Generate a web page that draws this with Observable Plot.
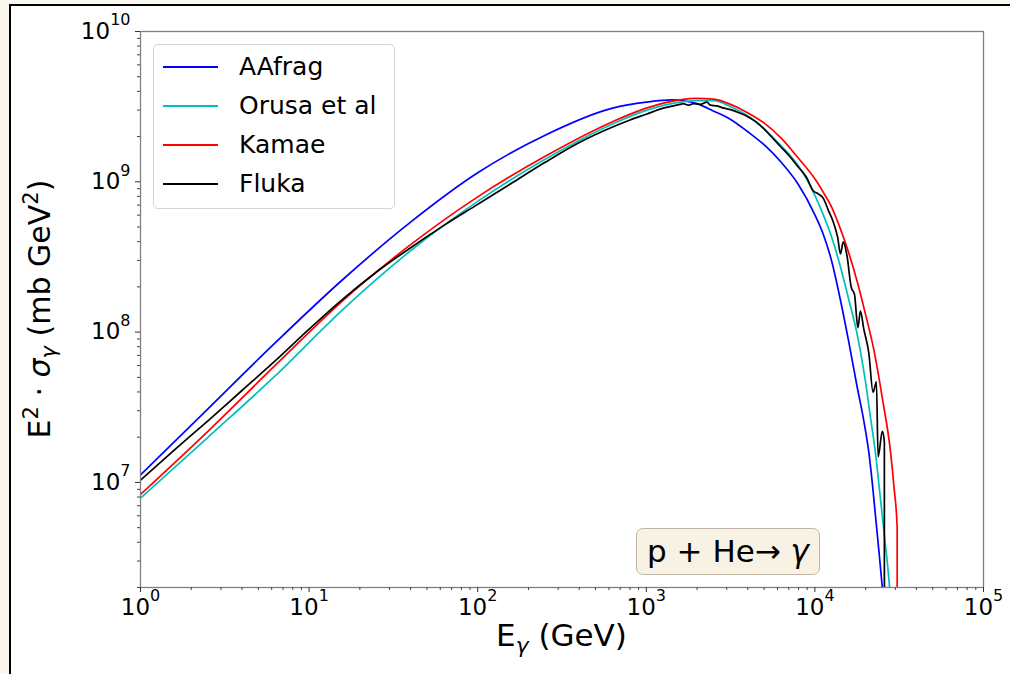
<!DOCTYPE html>
<html>
<head>
<meta charset="utf-8">
<script src="https://cdn.jsdelivr.net/npm/d3@7"></script>
<script src="https://cdn.jsdelivr.net/npm/@observablehq/plot@0.6"></script>
<style>
html,body{margin:0;padding:0;width:1010px;height:674px;overflow:hidden;background:#fbf7ee;font-family:"DejaVu Sans",sans-serif;}
#fig{position:absolute;left:9px;top:4px;width:1010px;height:680px;background:#fff;border-left:2px solid #000;border-top:2px solid #000;}
#chart{position:absolute;left:0;top:0;}
.lab{position:absolute;line-height:34px;white-space:nowrap;color:#000;text-align:center;}
sup,sub{font-size:70%;line-height:0;position:relative;vertical-align:baseline;}
sup{top:-0.55em;}
sub{top:0.3em;}
#xlab{left:140px;width:843px;top:618px;font-size:31px;}
#ylab{left:-160px;width:400px;top:292px;font-size:30px;transform:rotate(-90deg);}
#legend{position:absolute;left:153px;top:44px;width:242px;height:165px;box-sizing:border-box;border:1px solid #d4d4d4;border-radius:5px;background:rgba(255,255,255,0.85);}
.item{position:absolute;left:0;height:30px;line-height:30px;font-size:25px;white-space:nowrap;}
.sw{position:absolute;left:9px;top:14px;width:55px;height:2px;}
.tx{position:absolute;left:85px;top:0;}
#note{position:absolute;left:636px;top:528px;width:184px;height:47px;box-sizing:border-box;border:1px solid #bdb6a6;border-radius:7px;background:#f8f2e4;font-size:31px;line-height:45px;text-align:center;white-space:nowrap;}
</style>
</head>
<body>
<div id="fig"></div>
<div id="chart"></div>
<div id="xlab" class="lab">E<sub><i>γ</i></sub> (GeV)</div>
<div id="ylab" class="lab">E<sup>2</sup> · <i>σ</i><sub><i>γ</i></sub> (mb GeV<sup>2</sup>)</div>
<div id="legend"></div>
<div id="note">p + He→ <i>γ</i></div>
<script>
// ---------- data (E in GeV, E^2·σ in mb GeV^2) ----------
const models = ["AAfrag", "Orusa et al", "Kamae", "Fluka"];
const colors = ["#0000ff", "#00bfbf", "#ff0000", "#000000"];

const aafragE = [1, 2.512, 6.310, 15.85, 39.81, 100, 251.2, 631.0, 1000, 1413, 1995, 2512, 3162, 3981, 5012, 6310, 7943, 10000, 11220, 12590, 14130, 15850, 17780, 19500, 20890, 21880, 22910, 23990, 25120, 26920];
const aafragV = [1.122e7, 3.090e7, 8.511e7, 2.239e8, 5.370e8, 1.148e9, 2.042e9, 3.090e9, 3.388e9, 3.508e9, 3.311e9, 2.951e9, 2.600e9, 2.163e9, 1.758e9, 1.349e9, 9.661e8, 6.026e8, 4.467e8, 2.951e8, 1.660e8, 8.710e7, 4.365e7, 2.570e7, 1.585e7, 1.0e7, 5.888e6, 3.467e6, 1.995e6, 7.943e5];

const orusaE = [1, 2.512, 6.310, 15.85, 39.81, 100, 251.2, 631.0, 1000, 1585, 1995, 2512, 3162, 3981, 5012, 6310, 7943, 10000, 11220, 12590, 14130, 15850, 17780, 19950, 21380, 22910, 24270, 25700, 27860, 29510];
const orusaV = [7.852e6, 1.995e7, 5.129e7, 1.413e8, 3.467e8, 7.413e8, 1.413e9, 2.427e9, 2.985e9, 3.388e9, 3.467e9, 3.467e9, 3.162e9, 2.754e9, 2.239e9, 1.738e9, 1.288e9, 8.128e8, 6.026e8, 4.266e8, 2.754e8, 1.660e8, 9.772e7, 4.677e7, 2.692e7, 1.549e7, 8.511e6, 4.677e6, 1.862e6, 6.310e5];

const kamaeE = [1, 2.512, 6.310, 15.85, 39.81, 100, 251.2, 631.0, 1000, 1585, 1995, 2512, 3162, 3981, 5012, 6310, 7943, 10000, 11220, 12590, 14130, 15850, 17780, 19950, 22390, 25120, 28180, 29510, 30760, 30830];
const kamaeV = [8.318e6, 2.188e7, 6.026e7, 1.622e8, 3.802e8, 7.943e8, 1.479e9, 2.512e9, 3.090e9, 3.508e9, 3.589e9, 3.548e9, 3.273e9, 2.884e9, 2.455e9, 1.950e9, 1.445e9, 1.047e9, 8.511e8, 6.761e8, 4.898e8, 3.388e8, 2.188e8, 1.318e8, 7.586e7, 3.631e7, 1.549e7, 9.120e6, 5.012e6, 100];

const flukaE = [1, 1.585, 2.512, 3.981, 6.310, 10, 15.85, 25.12, 39.81, 63.10, 100, 158.5, 251.2, 398.1, 631.0, 794.3, 1000, 1259, 1585, 1660, 1778, 1905, 2089, 2291, 2399, 2630, 2884, 3162, 3548, 3981, 4467, 5012, 5623, 6310, 7079, 7943, 8913, 9772, 10470, 11220, 12020, 12880, 13650, 14190, 14720, 15490, 16410, 17180, 17990, 18620, 19500, 20890, 22130, 23170, 23710, 25120, 25820, 25880];
const flukaV = [1.035e7, 1.641e7, 2.570e7, 4.074e7, 6.457e7, 1.047e8, 1.660e8, 2.512e8, 3.631e8, 5.129e8, 7.079e8, 9.772e8, 1.349e9, 1.820e9, 2.317e9, 2.570e9, 2.818e9, 3.090e9, 3.273e9, 3.311e9, 3.236e9, 3.311e9, 3.273e9, 3.388e9, 3.236e9, 3.199e9, 3.090e9, 3.020e9, 2.884e9, 2.723e9, 2.512e9, 2.239e9, 1.950e9, 1.698e9, 1.479e9, 1.259e9, 1.072e9, 8.710e8, 8.318e8, 7.762e8, 6.457e8, 5.370e8, 4.266e8, 3.311e8, 3.981e8, 3.236e8, 1.995e8, 1.778e8, 1.072e8, 1.380e8, 1.047e8, 7.244e7, 3.981e7, 4.677e7, 1.479e7, 2.188e7, 1.862e7, 100];

const xMajor = [1, 10, 100, 1000, 10000, 100000];
const yMajor = [1e7, 1e8, 1e9, 1e10];
const mult = [2, 3, 4, 5, 6, 7, 8, 9];
const xMinor = [1, 10, 100, 1000, 10000].flatMap(d => mult.map(m => m * d));
const yMinor = [1e6, 1e7, 1e8, 1e9].flatMap(d => mult.map(m => m * d)).filter(v => v >= 2e6);

// ---------- table ----------
const series = [[aafragE, aafragV], [orusaE, orusaV], [kamaeE, kamaeV], [flukaE, flukaV]];
const rows = series.flatMap(([E, V], i) => E.map((e, j) => ({model: models[i], E: e, v: V[j]})));

const pow = d => "10^" + Math.round(Math.log10(d));

const chart = Plot.plot({
  width: 1010,
  height: 674,
  marginLeft: 140,
  marginRight: 27,
  marginTop: 31,
  marginBottom: 87,
  style: {background: "transparent", fontFamily: "DejaVu Sans", fontSize: "23px", color: "#000", overflow: "visible"},
  x: {type: "log", domain: [1, 1e5], label: null},
  y: {type: "log", domain: [2e6, 1e10], label: null},
  color: {domain: models, range: colors},
  marks: [
    Plot.line(rows, {x: "E", y: "v", z: "model", stroke: "model", strokeWidth: 1.7, curve: "monotone-x", clip: true}),
    Plot.frame({stroke: "#808080", strokeWidth: 1.3}),
    Plot.axisX({ticks: xMinor, tickSize: 3, tickFormat: () => "", stroke: "#444", label: null}),
    Plot.axisX({ticks: xMajor, tickSize: 5, tickPadding: 6, tickFormat: pow, stroke: "#333", fill: "#000", label: null}),
    Plot.axisY({ticks: yMinor, tickSize: 3, tickFormat: () => "", stroke: "#444", label: null}),
    Plot.axisY({ticks: yMajor, tickSize: 5, tickPadding: 5, tickFormat: pow, stroke: "#333", fill: "#000", label: null})
  ]
});

// superscript exponents in tick labels
const NS = "http://www.w3.org/2000/svg";
chart.querySelectorAll("text").forEach(t => {
  const s = t.textContent;
  if (!s.includes("^")) return;
  const [b, e] = s.split("^");
  t.textContent = "";
  const t1 = document.createElementNS(NS, "tspan");
  t1.textContent = b;
  const t2 = document.createElementNS(NS, "tspan");
  t2.textContent = e;
  t2.setAttribute("font-size", "16px");
  t2.setAttribute("dy", "-0.85em");
  t.append(t1, t2);
});
document.getElementById("chart").append(chart);

// legend
const legend = document.getElementById("legend");
models.forEach((m, i) => {
  const it = document.createElement("div");
  it.className = "item";
  it.style.top = (7 + 39 * i) + "px";
  it.style.width = "100%";
  const sw = document.createElement("span");
  sw.className = "sw";
  sw.style.background = colors[i];
  const tx = document.createElement("span");
  tx.className = "tx";
  tx.textContent = m;
  it.append(sw, tx);
  legend.append(it);
});
</script>
</body>
</html>
